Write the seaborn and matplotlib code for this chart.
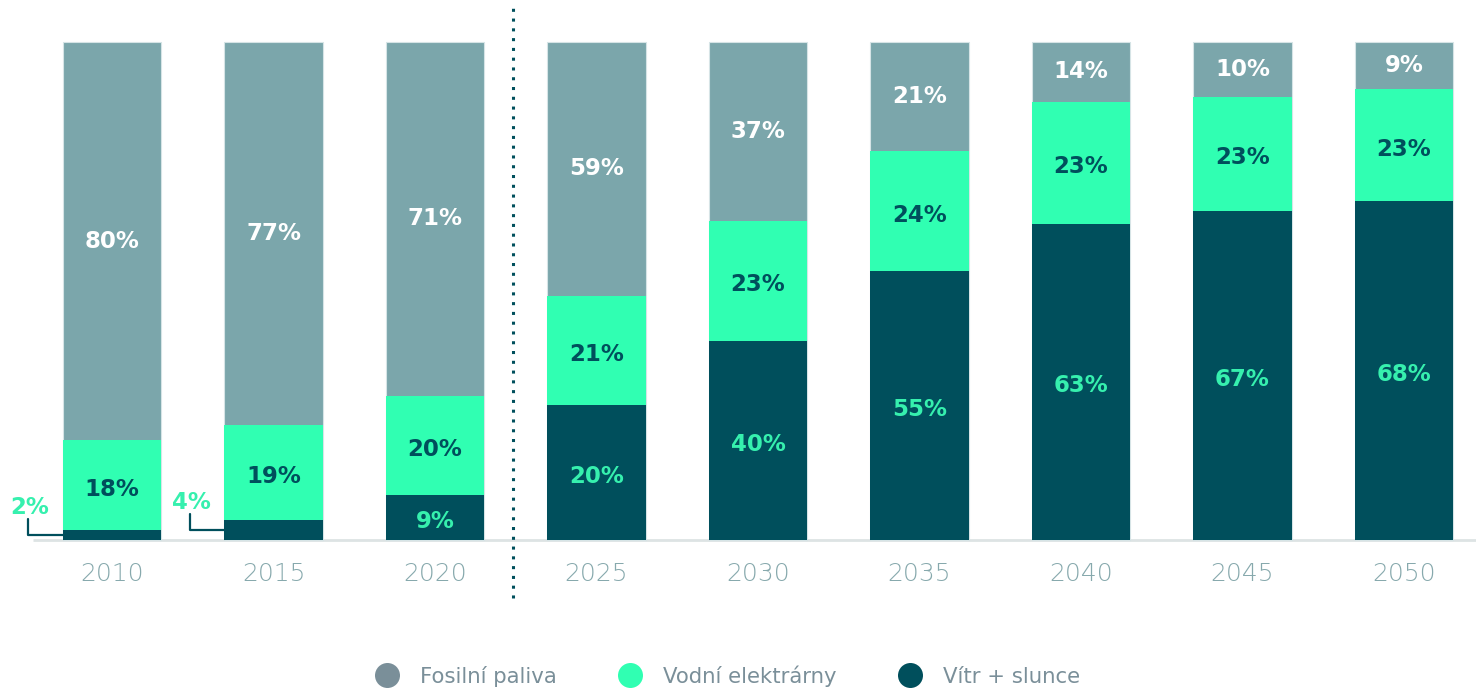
import matplotlib
matplotlib.use("Agg")
import matplotlib.pyplot as plt
from matplotlib.lines import Line2D
import pandas as pd
import seaborn as sns

# DATA (label values)
years = ["2010", "2015", "2020", "2025", "2030", "2035", "2040", "2045", "2050"]
wind_solar = [2, 4, 9, 20, 40, 55, 63, 67, 68]
hydro = [18, 19, 20, 21, 23, 24, 23, 23, 23]
fossil = [80, 77, 71, 59, 37, 21, 14, 10, 9]
series_names = ["Fosilní paliva", "Vodní elektrárny", "Vítr + slunce"]

# bar heights as drawn in the source (the bars don't follow the labels exactly)
wind_drawn = [2, 4, 9, 27, 40, 54, 63.5, 66, 68]
hydro_drawn = [18, 19, 20, 22, 24, 24, 24.5, 23, 22.5]

# COLORS
C_FOSSIL = "#7ba6ab"
C_FOSSIL_LEG = "#7a8f99"
C_HYDRO = "#30ffb2"
C_HYDRO_TXT = "#36f0ae"
C_WIND = "#004f5c"
C_TICK = "#87a9ad"

df = pd.DataFrame({"year": years, "wind": wind_drawn, "hydro": hydro_drawn})
df["lvl_wind"] = df["wind"]
df["lvl_hydro"] = df["wind"] + df["hydro"]
df["lvl_fossil"] = 100

sns.set_style("white")
plt.rcParams["font.family"] = ["DejaVu Sans"]

fig = plt.figure(figsize=(14.76, 6.89), dpi=100)
ax = fig.add_axes([0, 1 - 598 / 689, 1, 590 / 689])

BAR_W = 0.607
# stacked by overdrawing cumulative totals
sns.barplot(data=df, x="year", y="lvl_fossil", color=C_FOSSIL, width=BAR_W, saturation=1, ax=ax,
            edgecolor="#d6e4e6", linewidth=0.8)
sns.barplot(data=df, x="year", y="lvl_hydro", color=C_HYDRO, width=BAR_W, saturation=1, ax=ax, linewidth=0)
sns.barplot(data=df, x="year", y="lvl_wind", color=C_WIND, width=BAR_W, saturation=1, ax=ax, linewidth=0)

ax.set_xlim(-112 / 161.5, (1476 - 112) / 161.5)
ax.set_ylim(-11.65, 106.8)
ax.set_xlabel("")
ax.set_ylabel("")
ax.set_yticks([])
ax.set_xticks([])
sns.despine(ax=ax, left=True, bottom=True)

# baseline
ax.plot([-0.49, 9], [0, 0], color="#dde3e4", linewidth=2, zorder=0.5, solid_capstyle="butt")

# year labels
for i, y in enumerate(years):
    ax.text(i, -6.8, y, ha="center", va="center", fontsize=18, color=C_TICK, fontweight="light")

# dotted divider between history and projection
ax.plot([2.48, 2.48], [-11.6, 106.8], color=C_WIND, linestyle=(0, (1, 2.2)), linewidth=2.2, clip_on=False)

# segment labels
lab = dict(ha="center", va="center", fontsize=16.5, fontweight="bold")
for i in range(len(years)):
    wd, hd = wind_drawn[i], hydro_drawn[i]
    ax.text(i, wd + hd + (100 - wd - hd) / 2, f"{fossil[i]}%", color="white", **lab)
    ax.text(i, wd + hd / 2 - 0.8, f"{hydro[i]}%", color=C_WIND, **lab)
    if wd >= 5:
        ax.text(i, wd / 2 - 0.8, f"{wind_solar[i]}%", color=C_HYDRO_TXT, **lab)
    else:
        # small values: label outside with leader line
        lx = i - 0.52
        ax.text(lx + 0.01, wd / 2 + 5.5, f"{wind_solar[i]}%", color=C_HYDRO_TXT, **lab)
        ax.plot([lx, lx, i - BAR_W / 2], [wd / 2 + 3.3, wd / 2, wd / 2], color=C_WIND, linewidth=1.6)

# legend
handles = [Line2D([0], [0], marker="o", linestyle="", markersize=18, markerfacecolor=c, markeredgewidth=0)
           for c in [C_FOSSIL_LEG, C_HYDRO, C_WIND]]
fig.legend(handles, series_names, loc="center", bbox_to_anchor=(0.49, 0.019), ncol=3, frameon=False,
           fontsize=15.3, handletextpad=0.55, columnspacing=2.45, labelcolor=C_FOSSIL_LEG)

fig.savefig("out.png", dpi=100)
